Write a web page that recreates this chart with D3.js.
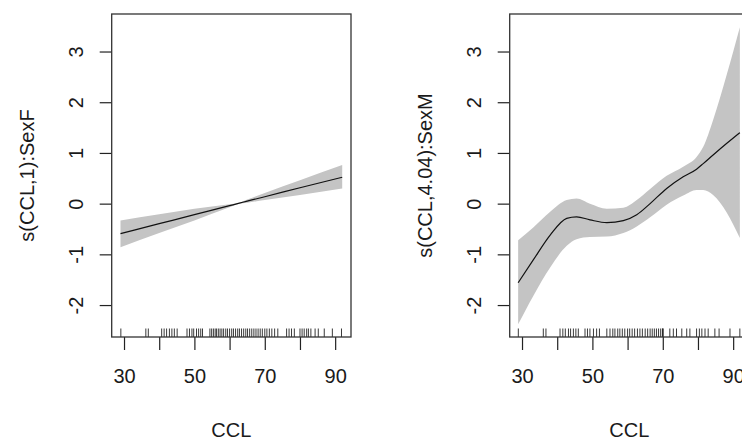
<!DOCTYPE html>
<html>
<head>
<meta charset="utf-8">
<script src="https://cdn.jsdelivr.net/npm/d3@7"></script>
<style>
  body { margin: 0; background: #fff; }
  svg text { font-family: "Liberation Sans", Arial, Helvetica, sans-serif; fill: #1a1a1a; }
</style>
</head>
<body>
<div id="chart"></div>
<script>
// tick values shared by both panels
const xTicks = [30, 40, 50, 60, 70, 80, 90];
const xTickLabels = ["30", "", "50", "", "70", "", "90"];
const yTicks = [-2, -1, 0, 1, 2, 3];

// s(CCL,1):SexF
const cclF = [29, 40, 50, 60, 62.5, 65, 70, 80, 92];
const fitF = [-0.59, -0.395, -0.218, -0.04, 0.004, 0.05, 0.136, 0.314, 0.52];
const upperF = [-0.33, -0.21, -0.10, -0.01, 0.014, 0.08, 0.21, 0.46, 0.76];
const lowerF = [-0.86, -0.58, -0.33, -0.07, -0.006, 0.02, 0.07, 0.17, 0.30];
const rugF = [29.1, 36.2, 36.9, 40.7, 41.4, 42.1, 42.9, 43.6, 44.3, 45.1, 47.9, 48.6, 49.3, 49.8,
  50.6, 51.2, 51.8, 52.3, 54.4, 54.9, 55.4, 55.9, 56.3, 56.8, 57.3, 57.8, 58.3, 58.9, 59.4, 60.0,
  60.6, 61.1, 61.7, 62.3, 62.8, 63.4, 64.0, 64.6, 65.1, 65.7, 66.3, 66.9, 67.5, 68.1, 68.7, 69.3,
  70.0, 70.6, 71.3, 72.0, 72.8, 73.7, 76.2, 76.9, 77.6, 78.4, 80.0, 80.6, 81.2, 81.9, 82.4, 83.1,
  84.3, 85.2, 86.9, 89.2, 91.8];

// s(CCL,4.04):SexM
const cclM = [28.9, 33.2, 38, 42.7, 45.5, 49.3, 54.1, 58.8, 62.6, 66.4, 71.1, 75.8, 79.6, 81.5, 84.3, 88.2, 91.9];
const fitM = [-1.56, -1.11, -0.62, -0.29, -0.26, -0.32, -0.375, -0.335, -0.22, 0.0, 0.30, 0.53, 0.68, 0.79, 0.96, 1.19, 1.40];
const upperM = [-0.72, -0.47, -0.16, 0.07, 0.10, 0.0, -0.10, -0.08, 0.07, 0.29, 0.55, 0.73, 0.92, 1.12, 1.65, 2.55, 3.48];
const lowerM = [-2.38, -1.82, -1.26, -0.83, -0.70, -0.66, -0.65, -0.58, -0.45, -0.27, -0.02, 0.16, 0.27, 0.27, 0.17, -0.18, -0.68];
const rugM = [28.95, 36.05, 36.8, 40.8, 41.6, 42.3, 43.2, 43.8, 44.6, 45.3, 46.0, 47.9, 48.6, 49.3,
  50.3, 51.2, 52.0, 54.1, 55.0, 55.8, 56.4, 57.2, 57.8, 58.5, 59.2, 60.0, 60.6, 61.3, 62.0, 62.8,
  63.5, 64.2, 65.0, 65.7, 66.4, 67.0, 67.6, 68.2, 68.8, 69.4, 69.9, 70.0, 70.1, 72.0, 73.0, 73.9,
  75.4, 76.8, 77.7, 79.6, 80.4, 81.1, 82.0, 82.9, 84.8, 86.0, 89.1, 91.9];

const svg = d3.select("#chart").append("svg")
  .attr("width", 742)
  .attr("height", 440);

const plotW = 239.3, plotH = 323, plotTop = 14;

function drawPanel(left, ylab, xs, fit, upper, lower, rug) {
  const g = svg.append("g").attr("transform", `translate(${left},${plotTop})`);

  const x = d3.scaleLinear().domain([26.5, 94.5]).range([0, plotW]);
  const y = d3.scaleLinear().domain([-2.63, 3.74]).range([plotH, 0]);

  const rows = xs.map((v, i) => ({ x: v, fit: fit[i], up: upper[i], lo: lower[i] }));

  // confidence band
  g.append("path")
    .datum(rows)
    .attr("fill", "#c4c4c4")
    .attr("d", d3.area()
      .curve(d3.curveMonotoneX)
      .x(d => x(d.x))
      .y0(d => y(d.lo))
      .y1(d => y(d.up)));

  // fitted smooth
  g.append("path")
    .datum(rows)
    .attr("fill", "none")
    .attr("stroke", "#111")
    .attr("stroke-width", 1.2)
    .attr("d", d3.line()
      .curve(d3.curveMonotoneX)
      .x(d => x(d.x))
      .y(d => y(d.fit)));

  // rug
  g.selectAll(".rug")
    .data(rug)
    .enter()
    .append("line")
    .attr("class", "rug")
    .attr("x1", d => x(d))
    .attr("x2", d => x(d))
    .attr("y1", plotH)
    .attr("y2", plotH - 8.5)
    .attr("stroke", "#222")
    .attr("stroke-width", 0.9);

  // x axis
  const xAxis = g.append("g")
    .attr("transform", `translate(0,${plotH})`)
    .call(d3.axisBottom(x)
      .tickValues(xTicks)
      .tickFormat((d, i) => xTickLabels[i])
      .tickSize(13)
      .tickSizeOuter(0)
      .tickPadding(19));
  xAxis.select(".domain").remove();
  xAxis.selectAll("line").attr("stroke", "#222").attr("stroke-width", 1.2);
  xAxis.selectAll("text").style("font-size", "20px").attr("fill", "#1a1a1a");

  // y axis, labels turned like R's las = 0 (plain hyphen minus as in R)
  const yAxis = g.append("g")
    .call(d3.axisLeft(y)
      .tickValues(yTicks)
      .tickSize(12)
      .tickSizeOuter(0)
      .tickFormat(d => String(d)));
  yAxis.select(".domain").remove();
  yAxis.selectAll("line").attr("stroke", "#222").attr("stroke-width", 1.2);
  yAxis.selectAll("text")
    .style("font-size", "20px")
    .attr("fill", "#1a1a1a")
    .attr("x", null)
    .attr("dy", null)
    .attr("text-anchor", "middle")
    .attr("transform", "translate(-29,0) rotate(-90)");

  // box
  g.append("rect")
    .attr("width", plotW)
    .attr("height", plotH)
    .attr("fill", "none")
    .attr("stroke", "#333")
    .attr("stroke-width", 1.3);

  // titles
  svg.append("text")
    .attr("x", left + plotW / 2)
    .attr("y", 436.5)
    .attr("text-anchor", "middle")
    .style("font-size", "20px")
    .text("CCL");

  svg.append("text")
    .attr("transform", `translate(${left - 78},${plotTop + plotH / 2}) rotate(-90)`)
    .attr("text-anchor", "middle")
    .style("font-size", "20px")
    .text(ylab);
}

drawPanel(111.7, "s(CCL,1):SexF", cclF, fitF, upperF, lowerF, rugF);
drawPanel(509.7, "s(CCL,4.04):SexM", cclM, fitM, upperM, lowerM, rugM);
</script>
</body>
</html>
